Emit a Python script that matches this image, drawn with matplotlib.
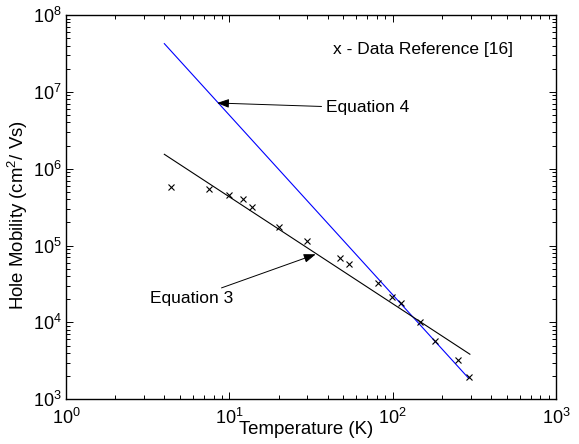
import matplotlib
matplotlib.use("Agg")
import matplotlib.pyplot as plt

plt.rcParams['font.family'] = ['Liberation Sans', 'DejaVu Sans']
plt.rcParams['mathtext.fontset'] = 'custom'
plt.rcParams['mathtext.rm'] = 'Liberation Sans'
plt.rcParams['mathtext.it'] = 'Liberation Sans'

# measured hole mobility (x markers)
temp_data = [4.4, 7.5, 9.9, 12.2, 13.8, 20.2, 29.8, 47.6, 54.3, 81, 99.5,
             112, 147, 182, 252, 293]
mob_data = [5.8e5, 5.45e5, 4.55e5, 4.0e5, 3.18e5, 1.76e5, 1.16e5, 6.96e4,
            5.71e4, 3.23e4, 2.16e4, 1.81e4, 1.02e4, 5.8e3, 3.25e3, 1.97e3]

# model curves (end points)
temp_eq3 = [4.0, 297]
mob_eq3 = [1.54e6, 3.86e3]
temp_eq4 = [4.0, 293]
mob_eq4 = [4.24e7, 1.86e3]

W, H = 579, 444
fig = plt.figure(figsize=(W / 100, H / 100), dpi=100)
ax = fig.add_axes([66 / W, 1 - 399.3 / H, 490 / W, 384.3 / H])

ax.loglog(temp_eq4, mob_eq4, color=(0, 0, 1), lw=0.8)
ax.loglog(temp_eq3, mob_eq3, color='k', lw=0.8)
ax.loglog(temp_data, mob_data, 'kx', ms=4, mew=0.8)

ax.set_xlim(1, 1000)
ax.set_ylim(1e3, 1e8)

ax.tick_params(which='both', direction='in', top=True, right=True,
               labelsize=13, width=0.7)
ax.tick_params(which='major', length=5, pad=3)
ax.tick_params(which='minor', length=3)
ax.tick_params(axis='x', which='major', pad=6)
for s in ax.spines.values():
    s.set_linewidth(1.0)

ax.set_xlabel('Temperature (K)', fontsize=13.4)
ax.xaxis.set_label_coords(0.49, -0.056)
ax.set_ylabel('Hole Mobility (cm$^2$/ Vs)', fontsize=13.4)
ax.yaxis.set_label_coords(-0.073, 0.48)

ax.text(0.5455, 0.909, 'x - Data Reference [16]', transform=ax.transAxes,
        fontsize=12.5, ha='left', va='center')

arrow = dict(arrowstyle='-|>,head_length=0.6,head_width=0.22', color='k',
             lw=0.7, mutation_scale=12, shrinkA=1, shrinkB=0)
ax.annotate('Equation 4', xy=(8.4, 7.16e6), xytext=(38.9, 6.17e6),
            fontsize=12.5, ha='left', va='center', arrowprops=arrow)
ax.annotate('Equation 3', xy=(33.8, 7.7e4), xytext=(10.53, 2.04e4),
            fontsize=12.5, ha='right', va='center', arrowprops=arrow)

fig.savefig('out.png', dpi=100)
